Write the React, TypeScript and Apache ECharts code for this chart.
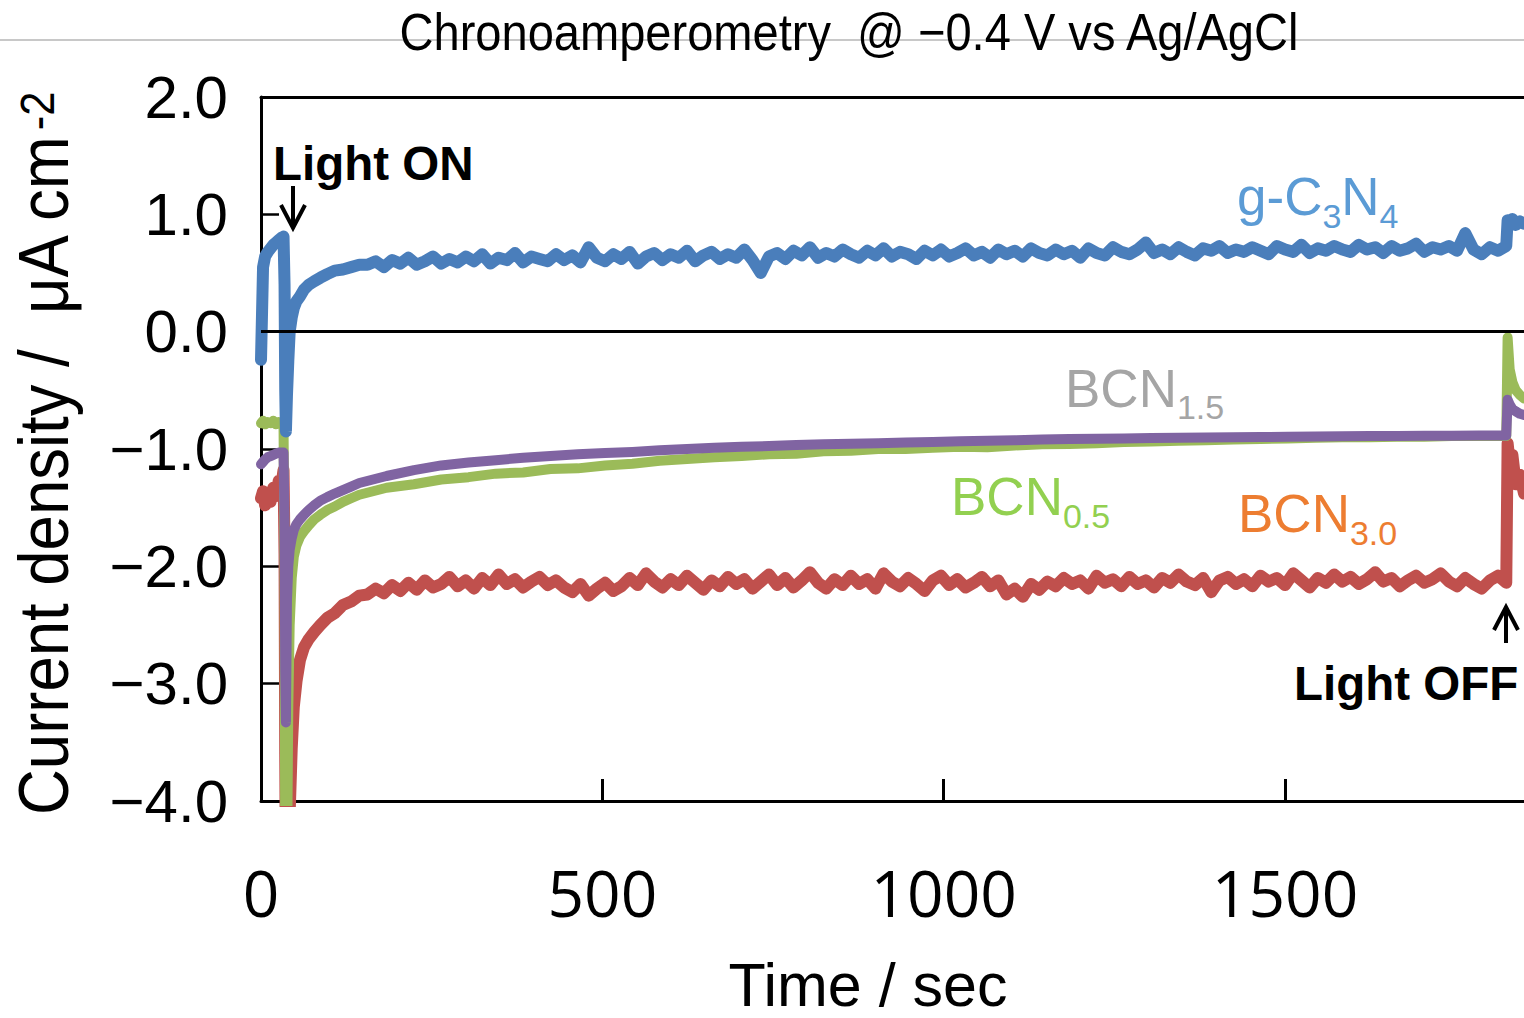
import React, { useEffect, useRef } from "react";
import * as echarts from "echarts";

// ---------------- data ----------------
const TITLE = "Chronoamperometry  @ \u22120.4 V vs Ag/AgCl";
const X_TITLE = "Time / sec";
const Y_TITLE_MAIN = "Current density /  \u03bcA cm";
const Y_TITLE_SUP = "-2";
const X_MIN = 0;
const X_MAX = 1850;
const X_INTERVAL = 500;
const Y_MIN = -4;
const Y_MAX = 2;
const Y_INTERVAL = 1;

// sampling times (s)
const EARLY_T = [0, 3, 6, 10, 14, 18, 22, 26, 30, 33, 34.5, 35.5, 36.5, 38, 40, 42, 45, 48, 52, 57, 63, 70, 78, 87, 97, 108, 120, 132];
const OFF_T = [1826, 1829, 1833, 1838, 1844, 1850];
const NOISY_START = 144;
const NOISY_STEP = 12;
const SMOOTH_START = 144;
const SMOOTH_STEP = 40;

// g-C3N4
const BLUE_EARLY = [-0.24, 0.55, 0.64, 0.68, 0.71, 0.74, 0.76, 0.78, 0.8, 0.81, 0.4, -0.5, -0.85, -0.55, -0.25, 0.0, 0.12, 0.2, 0.26, 0.3, 0.36, 0.4, 0.43, 0.46, 0.49, 0.52, 0.53, 0.55];
const BLUE_STEADY = [
  0.57,
  0.57, 0.6, 0.55, 0.61, 0.58, 0.63, 0.57, 0.6, 0.64, 0.58, 0.62, 0.59,
  0.64, 0.6, 0.66, 0.58, 0.63, 0.61, 0.67, 0.59, 0.64, 0.62, 0.6, 0.66,
  0.61, 0.65, 0.59, 0.72, 0.63, 0.6, 0.66, 0.62, 0.68, 0.58, 0.64, 0.67,
  0.61, 0.66, 0.63, 0.69, 0.6, 0.65, 0.68, 0.62, 0.66, 0.63, 0.7, 0.61,
  0.5, 0.64, 0.67, 0.62, 0.69, 0.65, 0.72, 0.63, 0.67, 0.64, 0.7, 0.66,
  0.63, 0.69, 0.65, 0.71, 0.64, 0.68, 0.66, 0.62, 0.69, 0.65, 0.7, 0.64,
  0.67, 0.71, 0.65, 0.68, 0.63, 0.7, 0.66, 0.69, 0.64, 0.71, 0.67, 0.65,
  0.7, 0.66, 0.69, 0.63, 0.71, 0.67, 0.65, 0.72, 0.68, 0.66, 0.7, 0.76,
  0.67, 0.7, 0.66, 0.72, 0.68, 0.65, 0.71, 0.69, 0.73, 0.67, 0.7, 0.68,
  0.72, 0.69, 0.66, 0.73, 0.7, 0.68, 0.74, 0.67, 0.71, 0.69, 0.73, 0.7,
  0.68, 0.74, 0.7, 0.72, 0.67, 0.73, 0.69, 0.71, 0.75, 0.68, 0.72, 0.7,
  0.73, 0.69, 0.84, 0.7, 0.66, 0.72, 0.69, 0.73,
];
const BLUE_OFF = [0.95, 0.9, 0.96, 0.91, 0.94, 0.92];

// BCN3.0
const RED_EARLY = [-1.42, -1.36, -1.48, -1.38, -1.45, -1.33, -1.4, -1.27, -1.3, -1.18, -1.9, -3.6, -4.6, -4.7, -4.5, -4.1, -3.55, -3.2, -2.98, -2.8, -2.69, -2.62, -2.56, -2.5, -2.44, -2.4, -2.33, -2.3];
const RED_STEADY = [
  -2.25,
  -2.24, -2.19, -2.23, -2.16, -2.21, -2.14, -2.2, -2.12, -2.18, -2.15, -2.09, -2.17,
  -2.12, -2.19, -2.1, -2.16, -2.07, -2.15, -2.11, -2.18, -2.13, -2.09, -2.16, -2.12,
  -2.18, -2.22, -2.15, -2.25, -2.19, -2.14, -2.21, -2.17, -2.1, -2.16, -2.06, -2.13,
  -2.18, -2.11, -2.16, -2.08, -2.14, -2.2, -2.12, -2.17, -2.09, -2.15, -2.11, -2.19,
  -2.13, -2.07, -2.16, -2.1, -2.18, -2.12, -2.05, -2.14, -2.19, -2.11, -2.16, -2.08,
  -2.15, -2.11, -2.19, -2.06, -2.13, -2.17, -2.1, -2.15, -2.21, -2.12, -2.08, -2.16,
  -2.11, -2.18, -2.14, -2.09, -2.17, -2.12, -2.24, -2.19, -2.26, -2.15, -2.2, -2.13,
  -2.17, -2.1, -2.15, -2.12, -2.19, -2.08, -2.14, -2.11, -2.17, -2.09, -2.15, -2.12,
  -2.18, -2.1, -2.14, -2.07, -2.13, -2.16, -2.1, -2.22, -2.12, -2.09, -2.15, -2.11,
  -2.17, -2.08, -2.13, -2.1, -2.16, -2.06, -2.12, -2.18, -2.1, -2.14, -2.07, -2.13,
  -2.09, -2.15, -2.11, -2.05, -2.13, -2.1, -2.17, -2.12, -2.08, -2.14, -2.11, -2.06,
  -2.13, -2.17, -2.1, -2.15, -2.19, -2.12, -2.08, -2.14,
];
const RED_OFF = [-0.95, -1.12, -1.05, -1.3, -1.22, -1.38];

// BCN1.5
const PURPLE_EARLY = [-1.13, -1.11, -1.09, -1.07, -1.06, -1.05, -1.04, -1.03, -1.03, -1.03, -1.6, -2.9, -3.33, -2.3, -2.0, -1.86, -1.76, -1.69, -1.64, -1.6, -1.56, -1.52, -1.48, -1.44, -1.41, -1.38, -1.35, -1.32];
const PURPLE_STEADY = [-1.29, -1.23, -1.18, -1.14, -1.115, -1.095, -1.075, -1.06, -1.045, -1.035, -1.025, -1.01, -1.0, -0.99, -0.98, -0.975, -0.965, -0.96, -0.955, -0.95, -0.945, -0.94, -0.935, -0.93, -0.925, -0.92, -0.915, -0.912, -0.91, -0.907, -0.905, -0.903, -0.9, -0.898, -0.896, -0.894, -0.892, -0.89, -0.889, -0.888, -0.887, -0.886, -0.885];
const PURPLE_OFF = [-0.58, -0.62, -0.66, -0.68, -0.7, -0.71];

// BCN0.5
const GREEN_EARLY = [-0.78, -0.76, -0.79, -0.77, -0.78, -0.76, -0.79, -0.77, -0.78, -0.79, -2.0, -4.5, -4.7, -4.6, -3.2, -2.5, -2.1, -1.92, -1.82, -1.75, -1.7, -1.65, -1.6, -1.56, -1.52, -1.49, -1.45, -1.42];
const GREEN_STEADY = [-1.39, -1.33, -1.3, -1.26, -1.24, -1.21, -1.2, -1.17, -1.165, -1.14, -1.125, -1.1, -1.085, -1.07, -1.06, -1.045, -1.04, -1.02, -1.015, -1.0, -1.0, -0.99, -0.98, -0.985, -0.97, -0.96, -0.958, -0.95, -0.94, -0.937, -0.93, -0.925, -0.92, -0.915, -0.91, -0.905, -0.9, -0.9, -0.895, -0.895, -0.89, -0.89, -0.89];
const GREEN_OFF = [-0.05, -0.32, -0.43, -0.5, -0.54, -0.57];

// ---------------- helpers ----------------
const FAMILY = "Liberation Sans";
let measureCtx: CanvasRenderingContext2D | null = null;
function measure(text: string, size: number, weight = "normal"): number {
  if (!measureCtx) measureCtx = document.createElement("canvas").getContext("2d");
  measureCtx!.font = `${weight} ${size}px "${FAMILY}"`;
  return measureCtx!.measureText(text).width;
}

function pairs(ts: number[], vs: number[]) {
  return ts.map((t, i) => [t, vs[i]]);
}
function grid(start: number, step: number, n: number) {
  return Array.from({ length: n }, (_, i) => start + step * i);
}
function buildSeries(early: number[], steady: number[], off: number[], start: number, step: number) {
  return [
    ...pairs(EARLY_T, early),
    ...pairs(grid(start, step, steady.length), steady),
    ...pairs(OFF_T, off),
  ];
}

type Piece = { text: string; size: number; dy?: number; weight?: string };
function chainText(x0: number, baseline: number, pieces: Piece[], color: string) {
  const out: any[] = [];
  let x = x0;
  for (const p of pieces) {
    const b = baseline + (p.dy || 0);
    out.push({
      type: "text",
      x,
      y: b - 0.3465 * p.size,
      silent: true,
      style: {
        text: p.text,
        fill: color,
        fontSize: p.size,
        fontFamily: FAMILY,
        fontWeight: p.weight || "normal",
        align: "left",
        verticalAlign: "middle",
      },
    });
    x += measure(p.text, p.size, p.weight || "normal");
  }
  return out;
}

function arrow(x: number, yFrom: number, yTip: number) {
  const dir = yTip > yFrom ? 1 : -1;
  return [
    { type: "line", silent: true, shape: { x1: x, y1: yFrom, x2: x, y2: yTip - dir * 1 }, style: { stroke: "#000", lineWidth: 4 } },
    {
      type: "polyline",
      silent: true,
      shape: { points: [[x - 12, yTip - dir * 23], [x, yTip], [x + 12, yTip - dir * 23]] },
      style: { stroke: "#000", lineWidth: 4, fill: null, lineJoin: "miter" },
    },
  ];
}

export default function App() {
  const ref = useRef<HTMLDivElement>(null);

  useEffect(() => {
    if (!ref.current) return;
    const chart = echarts.init(ref.current, null, { renderer: "svg" });

    const titleSize = 52;
    const titleScale = 902 / measure(TITLE, titleSize);
    const yMainSize = 70;
    const yMainW = measure(Y_TITLE_MAIN, yMainSize);
    const yScale = 682 / yMainW;

    const lineCommon = {
      type: "line",
      showSymbol: false,
      symbol: "none",
      clip: true,
      silent: true,
    };

    const graphics: any[] = [
      { type: "line", silent: true, z: 0, shape: { x1: 0, y1: 40, x2: 1524, y2: 40 }, style: { stroke: "#c8c8c8", lineWidth: 2 } },
      {
        type: "text",
        x: 849,
        y: 32,
        scaleX: titleScale,
        silent: true,
        z: 1,
        style: { text: TITLE, fill: "#000", fontSize: titleSize, fontFamily: FAMILY, align: "center", verticalAlign: "middle" },
      },
      {
        type: "text",
        x: 868,
        y: 985,
        silent: true,
        style: { text: X_TITLE, fill: "#000", fontSize: 61, lineHeight: 56, fontFamily: FAMILY, align: "center", verticalAlign: "middle" },
      },
      {
        type: "group",
        x: 44,
        y: 815,
        rotation: Math.PI / 2,
        scaleX: yScale,
        silent: true,
        children: [
          {
            type: "text",
            x: 0,
            y: 0,
            style: { text: Y_TITLE_MAIN, fill: "#000", fontSize: yMainSize, fontFamily: FAMILY, align: "left", verticalAlign: "middle" },
          },
          {
            type: "text",
            x: yMainW + 3,
            y: -6,
            style: { text: Y_TITLE_SUP, fill: "#000", fontSize: 48, fontFamily: FAMILY, align: "left", verticalAlign: "middle" },
          },
        ],
      },
      ...chainText(273, 180, [{ text: "Light ON", size: 47.5, weight: "bold" }], "#000"),
      ...arrow(293, 186, 228),
      ...chainText(1294, 700, [{ text: "Light OFF", size: 47.5, weight: "bold" }], "#000"),
      ...arrow(1506, 643, 607),
      ...chainText(1237, 215, [
        { text: "g-C", size: 53 },
        { text: "3", size: 34, dy: 13 },
        { text: "N", size: 53 },
        { text: "4", size: 34, dy: 13 },
      ], "#5B9BD5"),
      ...chainText(1065, 407, [
        { text: "BCN", size: 53 },
        { text: "1.5", size: 34, dy: 12 },
      ], "#A5A5A5"),
      ...chainText(951, 515, [
        { text: "BCN", size: 53 },
        { text: "0.5", size: 34, dy: 13 },
      ], "#92D050"),
      ...chainText(1238, 532, [
        { text: "BCN", size: 53 },
        { text: "3.0", size: 34, dy: 13 },
      ], "#ED7D31"),
    ];

    chart.setOption({
      animation: false,
      backgroundColor: "#ffffff",
      grid: { left: 261, right: 0, top: 97, bottom: 217, containLabel: false },
      xAxis: [
        {
          type: "value",
          position: "bottom",
          min: X_MIN,
          max: X_MAX,
          interval: X_INTERVAL,
          axisLine: { show: true, onZero: false, lineStyle: { color: "#000", width: 3 } },
          axisTick: { show: true, inside: true, length: 22, lineStyle: { color: "#000", width: 3 } },
          axisLabel: {
            show: true,
            showMaxLabel: false,
            margin: 59,
            color: "#000",
            fontSize: 64,
            fontFamily: "Open Sans",
            formatter: (v: number) => String(v),
          },
          splitLine: { show: false },
        },
        {
          type: "value",
          position: "top",
          min: X_MIN,
          max: X_MAX,
          axisLine: { show: true, onZero: false, lineStyle: { color: "#000", width: 3 } },
          axisTick: { show: false },
          axisLabel: { show: false },
          splitLine: { show: false },
        },
      ],
      yAxis: {
        type: "value",
        min: Y_MIN,
        max: Y_MAX,
        interval: Y_INTERVAL,
        axisLine: { show: true, onZero: false, lineStyle: { color: "#000", width: 3 } },
        axisTick: { show: true, inside: true, length: 18, lineStyle: { color: "#000", width: 2.5 } },
        axisLabel: {
          margin: 33,
          color: "#000",
          fontSize: 60,
          fontFamily: FAMILY,
          formatter: (v: number) => (v < 0 ? "\u2212" + Math.abs(v).toFixed(1) : v.toFixed(1)),
        },
        splitLine: { show: false },
      },
      graphic: graphics,
      series: [
        {
          ...lineCommon,
          name: "BCN3.0",
          data: buildSeries(RED_EARLY, RED_STEADY, RED_OFF, NOISY_START, NOISY_STEP),
          lineStyle: { color: "#C0504D", width: 12, join: "round", cap: "round" },
        },
        {
          ...lineCommon,
          name: "BCN0.5",
          data: buildSeries(GREEN_EARLY, GREEN_STEADY, GREEN_OFF, SMOOTH_START, SMOOTH_STEP),
          lineStyle: { color: "#9BBB59", width: 10, join: "round", cap: "round" },
        },
        {
          ...lineCommon,
          name: "BCN1.5",
          data: buildSeries(PURPLE_EARLY, PURPLE_STEADY, PURPLE_OFF, SMOOTH_START, SMOOTH_STEP),
          lineStyle: { color: "#8064A2", width: 10, join: "round", cap: "round" },
        },
        {
          ...lineCommon,
          name: "g-C3N4",
          data: buildSeries(BLUE_EARLY, BLUE_STEADY, BLUE_OFF, NOISY_START, NOISY_STEP),
          lineStyle: { color: "#4A7EBB", width: 12, join: "round", cap: "round" },
          markLine: {
            silent: true,
            symbol: ["none", "none"],
            label: { show: false },
            lineStyle: { color: "#000", width: 3, type: "solid" },
            data: [{ yAxis: 0 }],
          },
        },
      ],
    });

    return () => chart.dispose();
  }, []);

  return <div ref={ref} style={{ position: "absolute", left: 0, top: 0, width: 1524, height: 1018 }} />;
}
